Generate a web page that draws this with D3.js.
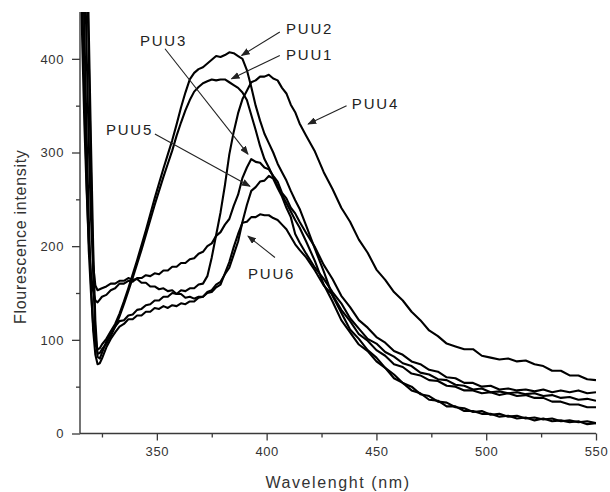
<!DOCTYPE html>
<html><head><meta charset="utf-8">
<script src="https://cdn.jsdelivr.net/npm/d3@7"></script>
<style>
body{margin:0;background:#fff}
svg{display:block}
text{font-family:"Liberation Sans",Arial,sans-serif}
</style>
</head><body>
<svg id="chart" width="610" height="492"></svg>
<script>
// ---- data ----
const wavelengths = [315,316,317,318,319,320,321,322,323,324,325,
 327,329,331,333,335,337,339,341,343,345,347,349,351,353,355,357,359,361,363,365,367,369,371,373,375,377,379,381,383,385,387,389,391,393,395,397,399,401,403,405,407,409,411,413,415,
 418,422,426,430,434,438,442,446,450,454,458,462,466,470,474,478,482,486,490,494,498,502,506,510,514,518,522,526,530,534,538,542,546,550];

const PUU1 = [900,780,650,520,400,280,170,105,85,86,90,
 96,104,114,125,138,152,166,181,196,212,228,244,259,274,288,302,318,332,345,356,365,370,374,376,378,377,378,378,375,372,369,364,356,340,324,307,293,284,274,264,255,246,237,228,220,
 205,184,159,141,121,108,95,88,77,70,59,54,46,43,36,35,29,29,24,24,21,21,18,19,16,17,14,16,13,14,12,13,10,11];

const PUU2 = [600,470,360,270,195,150,115,95,90,91,95,
 101,109,117,128,141,155,170,185,201,217,234,251,267,283,298,313,330,348,364,378,385,389,391,395,399,403,402,404,407,406,403,400,388,370,350,334,320,310,300,288,279,270,259,249,240,
 222,197,173,147,129,111,101,89,81,70,63,54,50,42,40,34,33,28,27,23,24,20,21,18,19,16,17,15,16,13,14,12,13,11];

const PUU3 = [520,420,330,260,205,170,152,142,140,143,146,
 148,153,155,160,160,163,162,166,166,169,168,171,170,174,174,178,178,182,182,186,187,192,194,200,203,211,215,223,229,243,255,273,284,293,290,289,284,282,275,269,257,251,241,235,226,
 214,199,180,165,147,135,121,113,103,97,88,84,77,74,68,66,60,59,54,54,50,51,47,48,46,47,45,47,44,46,44,46,43,44];

const PUU4 = [1000,850,700,560,430,310,200,120,82,80,86,
 98,108,114,120,121,126,127,132,133,137,138,142,142,146,146,150,149,153,152,155,155,159,160,168,188,212,236,265,298,322,342,357,366,375,377,381,381,383,379,377,369,363,351,343,331,
 318,301,279,261,241,226,207,193,175,164,151,142,130,121,110,104,96,93,90,90,83,81,79,80,77,78,74,72,67,67,62,62,58,57];

const PUU5 = [800,660,530,410,310,230,180,158,153,154,155,
 157,160,160,163,163,166,164,165,161,161,157,157,154,155,152,153,149,149,145,146,144,146,146,151,153,159,162,170,177,191,205,226,244,259,263,269,270,275,272,262,253,241,231,213,204,
 192,177,165,151,139,123,112,101,96,87,82,75,72,65,63,58,57,52,51,47,48,44,45,43,44,42,43,40,41,38,39,36,37,35];

const PUU6 = [700,560,430,320,230,160,110,84,74,75,80,
 92,101,108,114,117,122,122,126,126,130,130,134,133,136,134,137,136,139,138,141,141,145,146,150,151,156,159,171,183,199,213,225,226,231,231,234,233,233,230,228,223,218,210,202,196,
 188,174,158,148,132,120,106,99,89,83,74,71,64,62,57,56,51,50,46,46,43,44,41,43,40,41,38,38,34,34,31,31,28,28];

const seriesNames = ["PUU1","PUU2","PUU3","PUU4","PUU5","PUU6"];
const seriesValues = [PUU1,PUU2,PUU3,PUU4,PUU5,PUU6];

const xTickValues = [350,400,450,500,550];
const xMinorTicks = [325,375,425,475,525];
const yTickValues = [0,100,200,300,400];
const yMinorTicks = [50,150,250,350];

// annotation anchors in data units: label position, arrow start, arrow tip
const labelNames = ["PUU2","PUU1","PUU4","PUU3","PUU5","PUU6"];
const labelAt   = [[408.8,427],[408.8,399],[438.8,346.5],[342.3,414],[326.8,318.6],[391.5,165.4]];
const arrowFrom = [[406,428.7],[406,403.6],[436.4,350],[353.7,410.8],[349.1,319.7],[403.8,187.9]];
const arrowTo   = [[388.6,403.6],[384,378.7],[418.9,330.4],[391.5,298.3],[392.4,264],[391.5,210.7]];

// ---- drawing ----
const svg = d3.select("#chart");
const margin = {left:80, right:14, top:12, bottom:58.5};
const W = 610, H = 492;
const x = d3.scaleLinear().domain([315,550]).range([margin.left, W - margin.right]);
const y = d3.scaleLinear().domain([0,450]).range([H - margin.bottom, margin.top]);

const defs = svg.append("defs");
defs.append("clipPath").attr("id","plotclip")
  .append("rect").attr("x",x(315)).attr("y",y(450))
  .attr("width",x(550)-x(315)).attr("height",y(0)-y(450));

const marker = defs.append("marker")
  .attr("id","arrow").attr("markerUnits","userSpaceOnUse")
  .attr("markerWidth",9).attr("markerHeight",7)
  .attr("refX",8).attr("refY",3.5).attr("orient","auto");
marker.append("path").attr("d","M0,0 L9,3.5 L0,7 Z").attr("fill","#222");

const line = d3.line().x(d=>x(d[0])).y(d=>y(d[1]));
const g = svg.append("g").attr("clip-path","url(#plotclip)");
seriesValues.forEach((vals,i)=>{
  const pts = wavelengths.map((w,j)=>[w, vals[j]]);
  g.append("path").datum(pts).attr("d",line)
   .attr("fill","none").attr("stroke","#000").attr("stroke-width",2.1)
   .attr("stroke-linejoin","round").attr("class",seriesNames[i]);
});

// axes
const axisColor = "#3a3a3a";
const xAxis = svg.append("g").attr("transform",`translate(0,${y(0)})`)
  .call(d3.axisBottom(x).tickValues(xTickValues).tickSize(7).tickPadding(6).tickFormat(d3.format("d")));
svg.append("g").attr("transform",`translate(0,${y(0)})`)
  .call(d3.axisBottom(x).tickValues(xMinorTicks).tickSize(4).tickFormat(""))
  .call(s=>s.select(".domain").remove());
const yAxis = svg.append("g").attr("transform",`translate(${x(315)},0)`)
  .call(d3.axisLeft(y).tickValues(yTickValues).tickSize(8).tickPadding(8).tickFormat(d3.format("d")));
svg.append("g").attr("transform",`translate(${x(315)},0)`)
  .call(d3.axisLeft(y).tickValues(yMinorTicks).tickSize(4).tickFormat(""))
  .call(s=>s.select(".domain").remove());

svg.selectAll(".domain").attr("stroke",axisColor).attr("stroke-width",1.4);
svg.selectAll(".tick line").attr("stroke",axisColor).attr("stroke-width",1.3);
svg.selectAll(".tick text").attr("fill","#333").style("font-size","13px")
  .style("font-family","'Liberation Sans',Arial,sans-serif").style("letter-spacing","0.6px");
xAxis.select(".domain").attr("d",`M${x(315)},0H${x(550)}`);
yAxis.select(".domain").attr("d",`M0,${y(0)}V${y(450)}`);

// axis titles
svg.append("text").attr("x",(x(315)+x(550))/2).attr("y",488)
  .attr("text-anchor","middle").attr("fill","#333")
  .style("font-size","16px").style("letter-spacing","1.6px")
  .text("Wavelenght (nm)");
svg.append("text").attr("transform",`translate(26,${(y(0)+y(450))/2+14}) rotate(-90)`)
  .attr("text-anchor","middle").attr("fill","#333")
  .style("font-size","16px").style("letter-spacing","0.7px")
  .text("Flourescence intensity");

// annotations
const ann = svg.append("g");
labelNames.forEach((n,i)=>{
  ann.append("line")
    .attr("x1",x(arrowFrom[i][0])).attr("y1",y(arrowFrom[i][1]))
    .attr("x2",x(arrowTo[i][0])).attr("y2",y(arrowTo[i][1]))
    .attr("stroke","#222").attr("stroke-width",1.1).attr("marker-end","url(#arrow)");
  ann.append("text").attr("x",x(labelAt[i][0])).attr("y",y(labelAt[i][1]))
    .attr("fill","#222").style("font-size","15px").style("letter-spacing","1.8px")
    .text(n);
});
</script>
</body></html>
